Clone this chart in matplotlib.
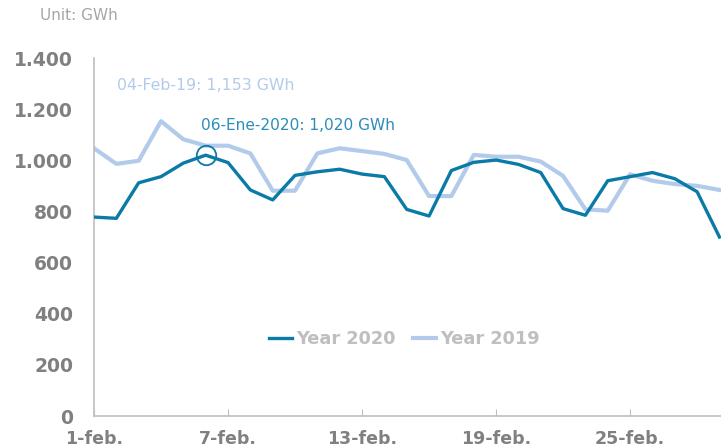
import numpy as np
import matplotlib.pyplot as plt
from matplotlib.ticker import FuncFormatter

# Consumo diario, febrero (GWh)
dias = np.arange(29)
year_2020 = [778, 773, 912, 936, 989, 1020, 991, 884, 845, 941, 955, 965, 946, 936,
             808, 782, 960, 992, 1001, 984, 952, 811, 785, 920, 936, 952, 928, 877, 700]
year_2019 = [1047, 986, 998, 1153, 1082, 1057, 1057, 1027, 881, 881, 1027, 1047, 1036, 1025,
             1001, 860, 860, 1021, 1014, 1014, 995, 939, 808, 803, 945, 920, 907, 900, 884]
tick_dias = [0, 6, 12, 18, 24]
tick_labels = ['1-feb.', '7-feb.', '13-feb.', '19-feb.', '25-feb.']

c2020 = '#0a7aa6'
c2019 = '#b3cbea'
gris = '#808080'

fig = plt.figure(figsize=(7.21, 4.47), dpi=100)
ax = fig.add_axes([94 / 721, 31 / 447, 627 / 721, 358 / 447])

ax.plot(dias, year_2020, color=c2020, lw=2.4, label='Year 2020', zorder=3)
ax.plot(dias, year_2019, color=c2019, lw=3.0, label='Year 2019', zorder=2)

# máximos anotados
i20 = 5
ax.plot(dias[i20], year_2020[i20], 'o', ms=14, mfc='none', mec=c2020, mew=1.3, zorder=4)
ax.text(4.8, 1135, '06-Ene-2020: 1,020 GWh', color='#2b8db8', fontsize=11.1, va='center')
ax.text(1.05, 1292, '04-Feb-19: 1,153 GWh', color=c2019, fontsize=11.3, va='center')

ax.set_xlim(0, 28.07)
ax.set_ylim(0, 1400)
ax.set_yticks(np.arange(0, 1401, 200))
ax.yaxis.set_major_formatter(FuncFormatter(lambda v, p: f'{int(v):,}'.replace(',', '.')))
ax.set_xticks(tick_dias)
ax.set_xticklabels(tick_labels)

for s in ['top', 'right']:
    ax.spines[s].set_visible(False)
for s in ['left', 'bottom']:
    ax.spines[s].set_color('#bfbfbf')
    ax.spines[s].set_linewidth(1.2)

ax.tick_params(axis='y', length=0, pad=15, labelsize=13.5, labelcolor=gris)
ax.tick_params(axis='x', direction='in', length=5, color='#bfbfbf', pad=10,
               labelsize=12.5, labelcolor=gris)
for t in ax.get_xticklabels() + ax.get_yticklabels():
    t.set_fontweight('bold')

leg = ax.legend(loc='center', bbox_to_anchor=(0.495, 0.215), ncol=2, frameon=False,
                handlelength=1.3, handletextpad=0.2, columnspacing=1.0,
                prop={'weight': 'bold', 'size': 12.8})
for t in leg.get_texts():
    t.set_color('#bfbfbf')

fig.text(40 / 721, 1 - 15 / 447, 'Unit: GWh', color='#a6a6a6', fontsize=11, va='center')

fig.savefig('out.png', dpi=100)
